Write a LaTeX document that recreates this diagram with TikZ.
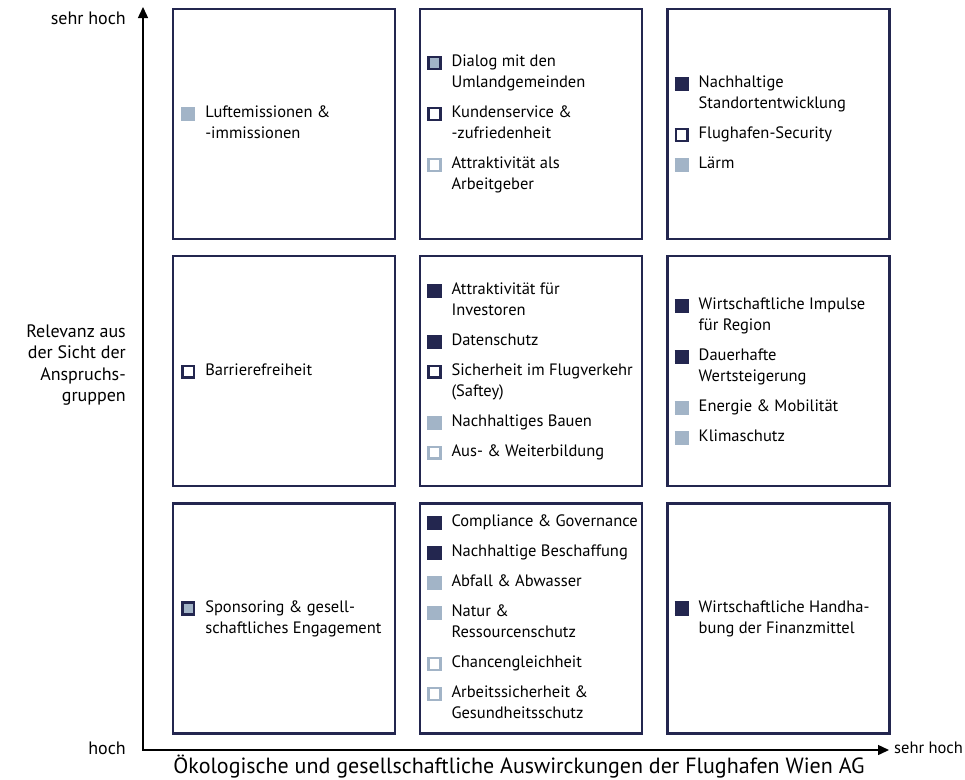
\documentclass[tikz,border=0pt]{standalone}
\usepackage{fontspec}
\setmainfont{PT Sans}
\usetikzlibrary{arrows.meta,positioning}
\definecolor{fwnavy}{HTML}{23264F}
\definecolor{fwlight}{HTML}{A2B4C7}

% markers: border colour, fill colour
\newcommand{\mk}[2]{\raisebox{-1pt}{\setlength{\fboxsep}{0pt}\setlength{\fboxrule}{2.4pt}\fcolorbox{#1}{#2}{\rule{0pt}{9.4pt}\hspace{9.4pt}}}}
\newcommand{\mkdark}{\mk{fwnavy}{fwnavy}}
\newcommand{\mklight}{\mk{fwlight}{fwlight}}
\newcommand{\mkmix}{\mk{fwnavy}{fwlight}}
\newcommand{\mkopen}{\mk{fwnavy}{white}}
\newcommand{\mkpale}{\mk{fwlight}{white}}
\newenvironment{itemlist}{\begin{tabular}{@{}l@{\hspace{10pt}}l@{}}}{\end{tabular}}

\tikzset{
  cell/.style={draw=fwnavy, line width=2.2pt, minimum width=222pt, minimum height=230pt, inner sep=0pt},
  list/.style={anchor=west, inner sep=0pt, font=\fontsize{16.5}{21}\selectfont},
  lbl/.style={inner sep=0pt, font=\fontsize{18}{21.5}\selectfont},
  axis/.style={line width=1.4pt, {Triangle[length=11pt,width=10pt]}-{Triangle[length=11pt,width=10pt]}}
}

\begin{document}
\begin{tikzpicture}[x=1pt, y=-1pt]
    \useasboundingbox (0,0) rectangle (965,779);

    % Matrix cells
    \node[cell] (b11) at (284,124) {};
    \node[cell, right=23pt of b11] (b12) {};
    \node[cell, right=23pt of b12] (b13) {};
    \node[cell, below=15pt of b11] (b21) {};
    \node[cell, right=23pt of b21] (b22) {};
    \node[cell, right=23pt of b22] (b23) {};
    \node[cell, below=15pt of b21] (b31) {};
    \node[cell, right=23pt of b31] (b32) {};
    \node[cell, right=23pt of b32] (b33) {};

    % Axes
    \coordinate (org) at (143,750);
    \coordinate (ytip) at (143,7);
    \coordinate (xtip) at (889,750);
    \draw[axis] (ytip) -- (org) -- (xtip);

    \node[lbl, anchor=east] (ymax) at (126,18) {sehr hoch};
    \node[lbl, anchor=east] (ymin) at (126,748) {hoch};
    \node[lbl, anchor=west, font=\fontsize{16.5}{21}\selectfont] (xmax) at (894,748) {sehr hoch};
    \node[lbl, font=\fontsize{22}{26}\selectfont] (xtitle) at (519,767) {Ökologische und gesellschaftliche Auswirckungen der Flughafen Wien AG};
    \node[lbl, anchor=east, align=right] (ytitle) at (126,365) {Relevanz aus\\der Sicht der\\Anspruchs-\\gruppen};

    % Row 1
    \node[list] (l11) at ([xshift=9pt]b11.west) {\begin{itemlist}
      \mklight & Luftemissionen \&\\ & -immissionen
    \end{itemlist}};
    \node[list] (l12) at ([xshift=8pt]b12.west) {\begin{itemlist}
      \mkmix & Dialog mit den\\ & Umlandgemeinden\\[9pt]
      \mkopen & Kundenservice \&\\ & -zufriedenheit\\[9pt]
      \mkpale & Attraktivität als\\ & Arbeitgeber
    \end{itemlist}};
    \node[list] (l13) at ([xshift=8pt]b13.west) {\begin{itemlist}
      \mkdark & Nachhaltige\\ & Standortentwicklung\\[9pt]
      \mkopen & Flughafen-Security\\[9pt]
      \mklight & Lärm
    \end{itemlist}};

    % Row 2
    \node[list] (l21) at ([xshift=9pt]b21.west) {\begin{itemlist}
      \mkopen & Barrierefreiheit
    \end{itemlist}};
    \node[list] (l22) at ([xshift=8pt]b22.west) {\begin{itemlist}
      \mkdark & Attraktivität für\\ & Investoren\\[9pt]
      \mkdark & Datenschutz\\[9pt]
      \mkopen & Sicherheit im Flugverkehr\\ & (Saftey)\\[9pt]
      \mklight & Nachhaltiges Bauen\\[9pt]
      \mkpale & Aus- \& Weiterbildung
    \end{itemlist}};
    \node[list] (l23) at ([xshift=8pt]b23.west) {\begin{itemlist}
      \mkdark & Wirtschaftliche Impulse\\ & für Region\\[9pt]
      \mkdark & Dauerhafte\\ & Wertsteigerung\\[9pt]
      \mklight & Energie \& Mobilität\\[9pt]
      \mklight & Klimaschutz
    \end{itemlist}};

    % Row 3
    \node[list] (l31) at ([xshift=9pt]b31.west) {\begin{itemlist}
      \mkmix & Sponsoring \& gesell-\\ & schaftliches Engagement
    \end{itemlist}};
    \node[list] (l32) at ([xshift=8pt]b32.west) {\begin{itemlist}
      \mkdark & Compliance \& Governance\\[9pt]
      \mkdark & Nachhaltige Beschaffung\\[9pt]
      \mklight & Abfall \& Abwasser\\[9pt]
      \mklight & Natur \&\\ & Ressourcenschutz\\[9pt]
      \mkpale & Chancengleichheit\\[9pt]
      \mkpale & Arbeitssicherheit \&\\ & Gesundheitsschutz
    \end{itemlist}};
    \node[list] (l33) at ([xshift=8pt]b33.west) {\begin{itemlist}
      \mkdark & Wirtschaftliche Handha-\\ & bung der Finanzmittel
    \end{itemlist}};
\end{tikzpicture}
\end{document}
